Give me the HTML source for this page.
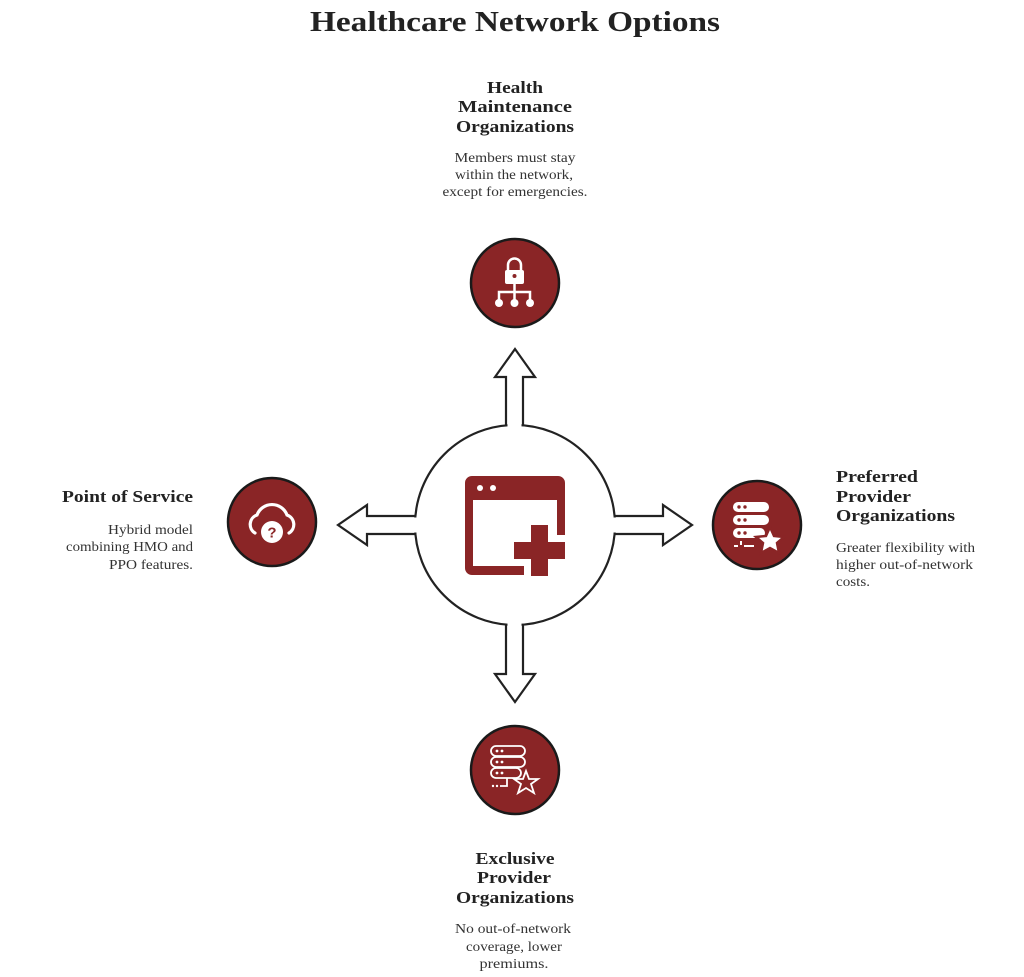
<!DOCTYPE html>
<html><head><meta charset="utf-8"><style>
html,body{margin:0;padding:0;background:#fff;}
svg{display:block;}
.h{font-family:"Liberation Serif",serif;font-weight:bold;font-size:17px;fill:#222;}
.b{font-family:"Liberation Serif",serif;font-size:14px;fill:#333;}
</style></head><body>
<svg width="1024" height="977" viewBox="0 0 1024 977" xmlns="http://www.w3.org/2000/svg">
<text x="515" y="31" text-anchor="middle" font-family="Liberation Serif,serif" font-weight="bold" font-size="28" fill="#222" textLength="410" lengthAdjust="spacingAndGlyphs">Healthcare Network Options</text>

<g fill="#fff" stroke="#222" stroke-width="2.2" stroke-linejoin="miter">
<polygon points="506,430 506,377 495,377 515,349 535,377 523,377 523,430"/>
<polygon points="506,620 506,674 495,674 515,702 535,674 523,674 523,620"/>
<polygon points="420,516 367,516 367,505 338,525 367,545 367,534 420,534"/>
<polygon points="610,516 663,516 663,505 692,525 663,545 663,534 610,534"/>
</g>
<circle cx="515" cy="525" r="100" fill="#fff" stroke="#222" stroke-width="2.2"/>
<rect x="507.5" y="420" width="14" height="14" fill="#fff"/>
<rect x="507.5" y="616" width="14" height="14" fill="#fff"/>
<rect x="411" y="517.5" width="14" height="15" fill="#fff"/>
<rect x="605" y="517.5" width="14" height="15" fill="#fff"/>

<g fill="#8a2526">
<path d="M472,476 H558 A7,7 0 0 1 565,483 V535 H557 V500 H473 V566 H524 V575 H472 A7,7 0 0 1 465,568 V483 A7,7 0 0 1 472,476 Z"/>
<path d="M531,525 H548 V542 H565 V559 H548 V576 H531 V559 H514 V542 H531 Z"/>
</g>
<circle cx="480" cy="488" r="3" fill="#fff"/><circle cx="493" cy="488" r="3" fill="#fff"/>

<g fill="#8a2526" stroke="#1a1a1a" stroke-width="2.5">
<circle cx="515" cy="283" r="44"/>
<circle cx="272" cy="522" r="44"/>
<circle cx="757" cy="525" r="44"/>
<circle cx="515" cy="770" r="44"/>
</g>

<g fill="#fff" stroke="#fff">
<rect x="505" y="270" width="19" height="14" rx="2" stroke="none"/>
<path d="M508,270 V265 A6.5,6.5 0 0 1 521,265 V270" fill="none" stroke-width="2.5"/>
<path d="M514.5,284 V291 M499,303 V292 H530 V303 M514.5,292 V303" fill="none" stroke-width="2.5"/>
<circle cx="499" cy="303" r="4" stroke="none"/><circle cx="514.5" cy="303" r="4" stroke="none"/><circle cx="530" cy="303" r="4" stroke="none"/>
</g>
<circle cx="514.5" cy="276" r="2" fill="#8a2526"/>

<g fill="none" stroke="#fff" stroke-width="3.2" stroke-linecap="round">
<path d="M255,533 A10,10 0 0 1 257,515 A16,16 0 0 1 287,515 A10,10 0 0 1 289,533"/>
</g>
<circle cx="272" cy="532" r="11" fill="#fff"/>
<text x="272" y="537.5" text-anchor="middle" font-family="Liberation Sans,sans-serif" font-weight="bold" font-size="15" fill="#8a2526">?</text>

<g fill="#fff">
<rect x="733" y="502" width="36" height="10" rx="5"/>
<rect x="733" y="515" width="36" height="10" rx="5"/>
<rect x="733" y="528" width="32" height="10" rx="5"/>
<rect x="740" y="541" width="2" height="4"/><rect x="734" y="545" width="4" height="2"/><rect x="744" y="545" width="10" height="2"/>
<polygon points="770,527 774,536 784,537 777,543 779,553 770,548 761,553 763,543 756,537 766,536" stroke="#8a2526" stroke-width="2.5"/>
</g>
<g fill="#8a2526"><circle cx="739" cy="507" r="1.7"/><circle cx="745" cy="507" r="1.7"/><circle cx="739" cy="520" r="1.7"/><circle cx="745" cy="520" r="1.7"/><circle cx="739" cy="533" r="1.7"/><circle cx="745" cy="533" r="1.7"/></g>

<g fill="none" stroke="#fff" stroke-width="1.8">
<rect x="491" y="746" width="34" height="10" rx="5"/>
<rect x="491" y="757" width="34" height="10" rx="5"/>
<rect x="491" y="768" width="30" height="10" rx="5"/>
<path d="M507,778 V786 H500"/>
<polygon points="526,771 529,779 538,779 531,784 534,793 526,788 518,793 521,784 514,779 523,779"/>
</g>
<g fill="#fff"><circle cx="497" cy="751" r="1.4"/><circle cx="502" cy="751" r="1.4"/><circle cx="497" cy="762" r="1.4"/><circle cx="502" cy="762" r="1.4"/><circle cx="497" cy="773" r="1.4"/><circle cx="502" cy="773" r="1.4"/><circle cx="493" cy="786" r="1.2"/><circle cx="497" cy="786" r="1.2"/></g>

<g text-anchor="middle" lengthAdjust="spacingAndGlyphs">
<text class="h" x="515" y="93" textLength="56" lengthAdjust="spacingAndGlyphs">Health</text>
<text class="h" x="515" y="112" textLength="114" lengthAdjust="spacingAndGlyphs">Maintenance</text>
<text class="h" x="515" y="132" textLength="118" lengthAdjust="spacingAndGlyphs">Organizations</text>
<text class="b" x="515" y="162" textLength="121" lengthAdjust="spacingAndGlyphs">Members must stay</text>
<text class="b" x="514" y="179" textLength="118" lengthAdjust="spacingAndGlyphs">within the network,</text>
<text class="b" x="515" y="196" textLength="145" lengthAdjust="spacingAndGlyphs">except for emergencies.</text>
</g>
<text class="h" x="836" y="482" textLength="82" lengthAdjust="spacingAndGlyphs">Preferred</text>
<text class="h" x="836" y="502" textLength="75" lengthAdjust="spacingAndGlyphs">Provider</text>
<text class="h" x="836" y="521" textLength="119" lengthAdjust="spacingAndGlyphs">Organizations</text>
<text class="b" x="836" y="552" textLength="139" lengthAdjust="spacingAndGlyphs">Greater flexibility with</text>
<text class="b" x="836" y="569" textLength="137" lengthAdjust="spacingAndGlyphs">higher out-of-network</text>
<text class="b" x="836" y="586" textLength="34" lengthAdjust="spacingAndGlyphs">costs.</text>
<text class="h" x="62" y="502" textLength="131" lengthAdjust="spacingAndGlyphs">Point of Service</text>
<text class="b" x="108" y="534" textLength="85" lengthAdjust="spacingAndGlyphs">Hybrid model</text>
<text class="b" x="66" y="551" textLength="127" lengthAdjust="spacingAndGlyphs">combining HMO and</text>
<text class="b" x="109" y="569" textLength="84" lengthAdjust="spacingAndGlyphs">PPO features.</text>
<g text-anchor="middle">
<text class="h" x="515" y="864" textLength="79" lengthAdjust="spacingAndGlyphs">Exclusive</text>
<text class="h" x="514" y="883" textLength="74" lengthAdjust="spacingAndGlyphs">Provider</text>
<text class="h" x="515" y="903" textLength="118" lengthAdjust="spacingAndGlyphs">Organizations</text>
<text class="b" x="513" y="933" textLength="116" lengthAdjust="spacingAndGlyphs">No out-of-network</text>
<text class="b" x="514" y="951" textLength="96" lengthAdjust="spacingAndGlyphs">coverage, lower</text>
<text class="b" x="514" y="968" textLength="69" lengthAdjust="spacingAndGlyphs">premiums.</text>
</g>
</svg>
</body></html>
